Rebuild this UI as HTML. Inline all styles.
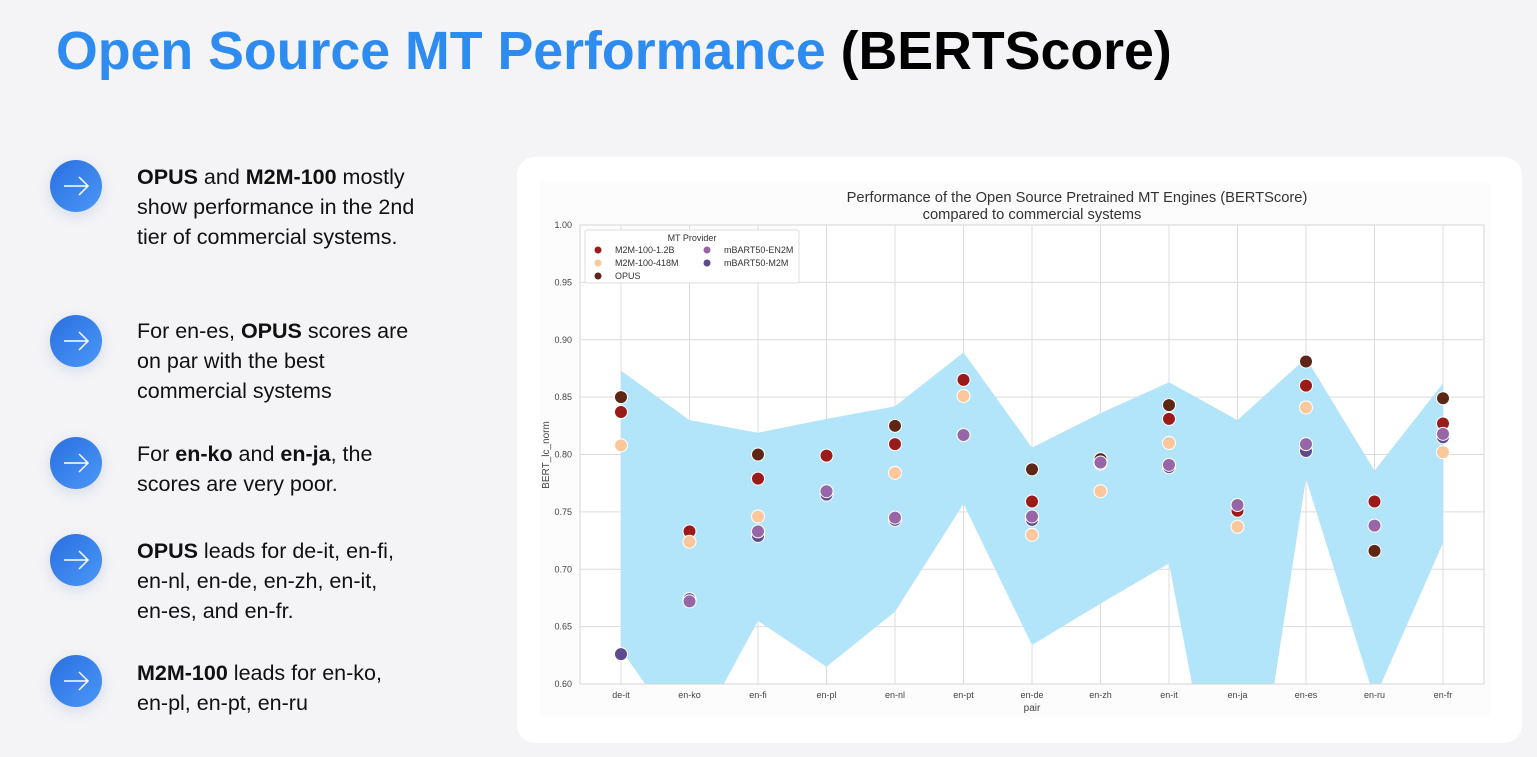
<!DOCTYPE html>
<html><head><meta charset="utf-8"><style>
body{margin:0;width:1537px;height:757px;background:#f4f4f7;font-family:"Liberation Sans",sans-serif;position:relative;overflow:hidden}
h1{position:absolute;left:56px;top:20px;margin:0;font-size:53.7px;font-weight:bold;color:#2e8bf0;white-space:nowrap}
h1 span{color:#000}
.b{position:absolute;left:50px;width:52px;height:52px;border-radius:50%;background:linear-gradient(135deg,#2a6fe0,#4a97f7);box-shadow:0 4px 14px rgba(40,80,160,0.15)}
.t{position:absolute;left:137px;font-size:21.5px;line-height:30px;color:#111;white-space:nowrap}
.card{position:absolute;left:517px;top:157px;width:1005px;height:586px;background:#fff;border-radius:18px}
</style></head><body>
<h1>Open Source MT Performance <span>(BERTScore)</span></h1>
<div class="b" style="top:160px"><svg width="52" height="52"><path d="M14 26H38M29 17L38 26L29 35" stroke="#fff" stroke-width="1.5" fill="none"/></svg></div>
<div class="t" style="top:162px"><b>OPUS</b> and <b>M2M-100</b> mostly<br>show performance in the 2nd<br>tier of commercial systems.</div>
<div class="b" style="top:315px"><svg width="52" height="52"><path d="M14 26H38M29 17L38 26L29 35" stroke="#fff" stroke-width="1.5" fill="none"/></svg></div>
<div class="t" style="top:316px">For en-es, <b>OPUS</b> scores are<br>on par with the best<br>commercial systems</div>
<div class="b" style="top:437px"><svg width="52" height="52"><path d="M14 26H38M29 17L38 26L29 35" stroke="#fff" stroke-width="1.5" fill="none"/></svg></div>
<div class="t" style="top:439px">For <b>en-ko</b> and <b>en-ja</b>, the<br>scores are very poor.</div>
<div class="b" style="top:534px"><svg width="52" height="52"><path d="M14 26H38M29 17L38 26L29 35" stroke="#fff" stroke-width="1.5" fill="none"/></svg></div>
<div class="t" style="top:536px"><b>OPUS</b> leads for de-it, en-fi,<br>en-nl, en-de, en-zh, en-it,<br>en-es, and en-fr.</div>
<div class="b" style="top:655px"><svg width="52" height="52"><path d="M14 26H38M29 17L38 26L29 35" stroke="#fff" stroke-width="1.5" fill="none"/></svg></div>
<div class="t" style="top:658px"><b>M2M-100</b> leads for en-ko,<br>en-pl, en-pt, en-ru</div>
<div class="card"></div>
<svg id="chart" width="1537" height="757" style="position:absolute;left:0;top:0"></svg>
<script>
const categories=["de-it","en-ko","en-fi","en-pl","en-nl","en-pt","en-de","en-zh","en-it","en-ja","en-es","en-ru","en-fr"];
const bandUpper=[0.873,0.830,0.819,0.831,0.842,0.889,0.806,0.836,0.863,0.830,0.884,0.786,0.862];
const bandLower=[0.630,0.545,0.655,0.615,0.663,0.757,0.634,0.670,0.705,0.393,0.779,0.587,0.723];
const m2m12B=[0.837,0.733,0.779,0.799,0.809,0.865,0.759,null,0.831,0.751,0.860,0.759,0.827];
const m2m418M=[0.808,0.724,0.746,null,0.784,0.851,0.730,0.768,0.810,0.737,0.841,null,0.802];
const opus=[0.850,null,0.800,null,0.825,null,0.787,0.796,0.843,null,0.881,0.716,0.849];
const mbartEN2M=[null,0.672,0.733,0.768,0.745,0.817,0.746,0.793,0.791,0.756,0.809,0.738,0.818];
const mbartM2M=[0.626,0.674,0.729,0.765,0.743,0.817,0.743,0.792,0.789,null,0.803,null,0.815];
const yTicks=[0.60,0.65,0.70,0.75,0.80,0.85,0.90,0.95,1.00];
const NS="http://www.w3.org/2000/svg";
const svg=document.getElementById('chart');
const L=580,R=1484,T=225,B=684,x0=621,dx=68.5,ymin=0.6,ymax=1.0;
const X=i=>x0+i*dx;
const Y=v=>B-(v-ymin)/(ymax-ymin)*(B-T);
function mk(tag,a,p){const e=document.createElementNS(NS,tag);for(const k in a)e.setAttribute(k,a[k]);(p||svg).appendChild(e);return e;}
const bg=mk('rect',{x:540,y:182,width:950,height:535,fill:'#fcfcfd'});


const plot=mk('rect',{x:L,y:T,width:R-L,height:B-T,fill:'#fff'});


yTicks.forEach(v=>{
 const g=mk('line',{x1:L,x2:R,y1:Y(v),y2:Y(v),stroke:'#dcdcdc','stroke-width':1});
 
 
 const t=mk('text',{x:L-8,y:Y(v)+3,'text-anchor':'end','font-size':9,fill:'#444'});
 t.textContent=v.toFixed(2);
 
 
});
categories.forEach((c,i)=>{
 const g=mk('line',{x1:X(i),x2:X(i),y1:T,y2:B,stroke:'#dcdcdc','stroke-width':1});
 
 
 const t=mk('text',{x:X(i),y:B+14,'text-anchor':'middle','font-size':9,fill:'#444'});
 t.textContent=c;
 
 
});
const cp=mk('clipPath',{id:'cp'});mk('rect',{x:L,y:T,width:R-L,height:B-T},cp);
let pts=categories.map((c,i)=>X(i)+','+Y(bandUpper[i]));
for(let i=categories.length-1;i>=0;i--)pts.push(X(i)+','+Y(bandLower[i]));
const band=mk('polygon',{points:pts.join(' '),fill:'#b3e5fa','clip-path':'url(#cp)'});


const frame=mk('rect',{x:L,y:T,width:R-L,height:B-T,fill:'none',stroke:'#d6d6d6'});


const series=[[m2m12B,'#9b1b1b','m2m-100-1.2b'],[m2m418M,'#fdc79c','m2m-100-418m'],[opus,'#5e2614','opus'],[mbartM2M,'#5e4a8e','mbart50-m2m'],[mbartEN2M,'#9766a6','mbart50-en2m']];
series.forEach(([arr,col,nm])=>arr.forEach((v,i)=>{
 if(v==null)return;
 const c=mk('circle',{cx:X(i),cy:Y(v),r:6.5,fill:col,stroke:'#fff','stroke-width':1});
 
 
}));
function txt(s,a,name){const t=mk('text',a);t.textContent=s;return t;}
txt('Performance of the Open Source Pretrained MT Engines (BERTScore)',{x:1077,y:202,'text-anchor':'middle','font-size':14.7,fill:'#333'},'chart-title');
txt('compared to commercial systems',{x:1032,y:219,'text-anchor':'middle','font-size':14.7,fill:'#333'},'chart-subtitle');
txt('pair',{x:1032,y:711,'text-anchor':'middle','font-size':10,fill:'#444'},'x-axis-title');
txt('BERT_lc_norm',{x:549,y:455,'text-anchor':'middle','font-size':10,fill:'#444',transform:'rotate(-90 549 455)'},'y-axis-title');
const lg=mk('rect',{x:585,y:230,width:214,height:53,fill:'#fff',stroke:'#ddd',rx:2});


txt('MT Provider',{x:692,y:241,'text-anchor':'middle','font-size':9,fill:'#333'},'legend-title');
const le=[['M2M-100-1.2B','#9b1b1b',598,250],['M2M-100-418M','#fdc79c',598,263],['OPUS','#5e2614',598,276],['mBART50-EN2M','#9766a6',707,250],['mBART50-M2M','#5e4a8e',707,263]];
le.forEach(([s,c,x,y])=>{
 const d=mk('circle',{cx:x,cy:y,r:3.5,fill:c});
 
 
 txt(s,{x:x+17,y:y+3,'font-size':9,fill:'#333'},'legend-entry');
});
</script>
</body></html>
